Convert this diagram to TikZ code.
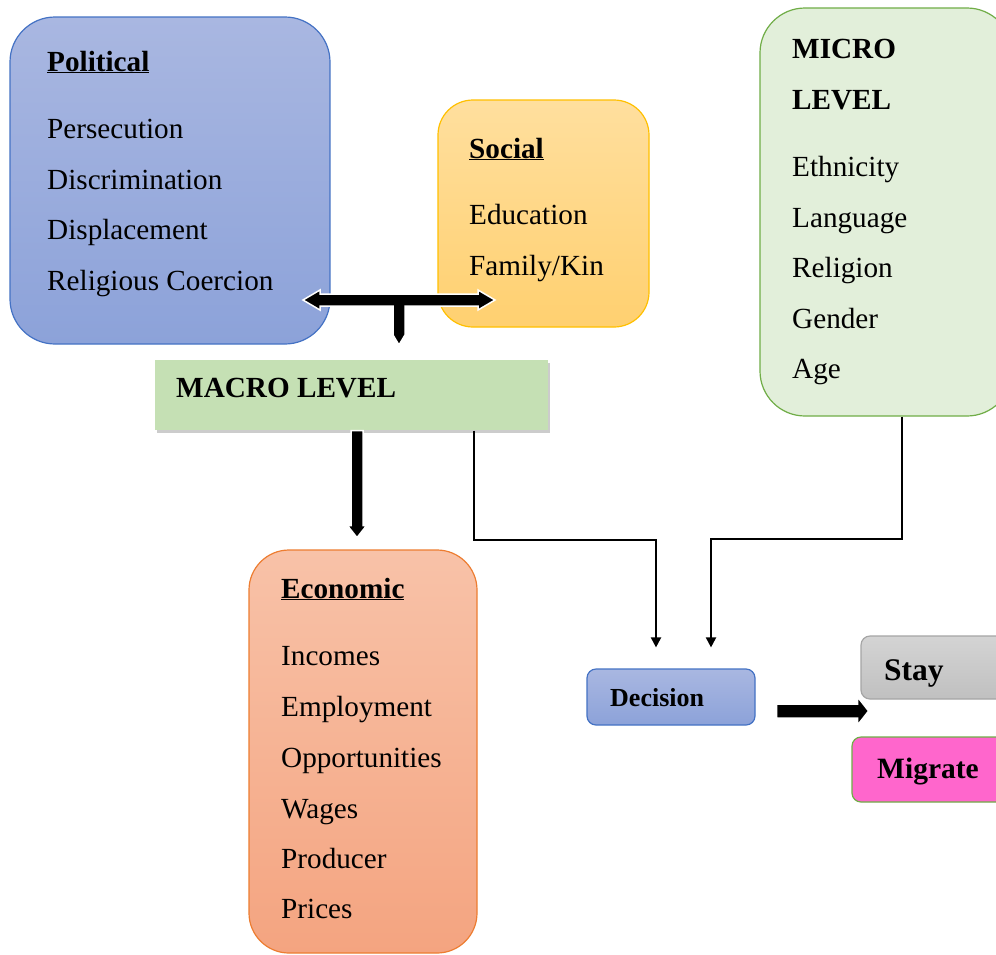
\documentclass[tikz,border=0pt]{standalone}
\usepackage{fontspec}
\setmainfont{Liberation Serif}
\usetikzlibrary{shadows,arrows.meta}
\definecolor{polTop}{RGB}{169,183,225}
\definecolor{polBot}{RGB}{140,162,217}
\definecolor{polLine}{RGB}{68,114,196}
\definecolor{socTop}{RGB}{255,223,158}
\definecolor{socBot}{RGB}{255,208,112}
\definecolor{socLine}{RGB}{255,192,0}
\definecolor{micFill}{RGB}{226,239,218}
\definecolor{grnLine}{RGB}{112,173,71}
\definecolor{macFill}{RGB}{197,224,180}
\definecolor{ecoTop}{RGB}{248,194,168}
\definecolor{ecoBot}{RGB}{244,164,128}
\definecolor{ecoLine}{RGB}{237,125,49}
\definecolor{stayTop}{RGB}{212,212,212}
\definecolor{stayBot}{RGB}{192,192,192}
\definecolor{stayLine}{RGB}{165,165,165}
\definecolor{migFill}{RGB}{255,102,204}
\newcommand\myfs{\fontsize{29.2}{34}\selectfont}
\tikzset{
  box/.style={rectangle, line width=1.2pt, inner sep=0pt},
  txt/.style={anchor=base west, inner sep=0pt, font=\myfs},
  btxt/.style={txt, font=\myfs\bfseries},
  conn/.style={line width=2pt, -{Triangle[length=10pt,width=10pt]}},
  fat/.style={fill=black, draw=white, line width=1.5pt, line join=miter},
}
\begin{document}
\begin{tikzpicture}[x=1pt,y=-1pt]
\clip (0,0) rectangle (996,954);
\fill[white] (0,0) rectangle (996,954);
% boxes
\node[box, draw=polLine, top color=polTop, bottom color=polBot, rounded corners=45pt,
      minimum width=320pt, minimum height=327pt] (political) at (170,180.5) {};
\node[box, draw=socLine, top color=socTop, bottom color=socBot, rounded corners=35pt,
      minimum width=211pt, minimum height=227pt] (social) at (543.5,213.5) {};
\node[box, draw=grnLine, fill=micFill, rounded corners=45pt,
      minimum width=252pt, minimum height=408pt] (micro) at (886,212) {};
\node[box, fill=macFill, drop shadow={opacity=0.4, shadow xshift=1.5pt, shadow yshift=-3pt},
      minimum width=393pt, minimum height=70pt] (macro) at (351.5,395) {};
\node[box, draw=ecoLine, top color=ecoTop, bottom color=ecoBot, rounded corners=40pt,
      minimum width=228pt, minimum height=403pt] (economic) at (363,751.5) {};
\node[box, draw=polLine, top color=polTop, bottom color=polBot, rounded corners=9pt,
      minimum width=168pt, minimum height=56pt] (decision) at (671,697) {};
\node[box, draw=stayLine, top color=stayTop, bottom color=stayBot, rounded corners=9pt,
      minimum width=149pt, minimum height=63pt] (stay) at (935.5,667.5) {};
\node[box, draw=grnLine, fill=migFill, rounded corners=9pt,
      minimum width=158pt, minimum height=65pt] (migrate) at (931,769.5) {};
% texts political
\node[btxt] (polT) at (47,71) {\underline{Political}};
\node[txt] (pol1) at (47,138) {Persecution};
\node[txt] (pol2) at (47,189) {Discrimination};
\node[txt] (pol3) at (47,239) {Displacement};
\node[txt] (pol4) at (47,290) {Religious Coercion};
% social
\node[btxt] (socT) at (469,158) {\underline{Social}};
\node[txt] (soc1) at (469,224) {Education};
\node[txt] (soc2) at (469,275) {Family/Kin};
% micro
\node[btxt] (micT1) at (792,58) {MICRO};
\node[btxt] (micT2) at (792,109) {LEVEL};
\node[txt] (mic1) at (792,176) {Ethnicity};
\node[txt] (mic2) at (792,227) {Language};
\node[txt] (mic3) at (792,277) {Religion};
\node[txt] (mic4) at (792,328) {Gender};
\node[txt] (mic5) at (792,378) {Age};
% macro
\node[btxt] (macT) at (176,397) {MACRO LEVEL};
% economic
\node[btxt] (ecoT) at (281,598) {\underline{Economic}};
\node[txt] (eco1) at (281,665) {Incomes};
\node[txt] (eco2) at (281,716) {Employment};
\node[txt] (eco3) at (281,767) {Opportunities};
\node[txt] (eco4) at (281,818) {Wages};
\node[txt] (eco5) at (281,868) {Producer};
\node[txt] (eco6) at (281,918) {Prices};
% decision / outcomes
\node[txt, font=\fontsize{26}{30}\selectfont\bfseries] (decT) at (610,706) {Decision};
\node[txt, font=\fontsize{31.5}{36}\selectfont\bfseries] (stayT) at (884,680) {Stay};
\node[txt, font=\fontsize{29.5}{34}\selectfont\bfseries] (migT) at (877,778) {Migrate};
% T-shaped double arrow between political and social, down to macro
\coordinate (hub) at (399,300);
\draw[fat] (hub) ++(-96,0) -- ++(17,-10) -- ++(0,4) -- ++(158,0) -- ++(0,-4) -- ++(17,10)
  -- ++(-17,10) -- ++(0,-4) -- ++(-73,0) -- ++(0,29) -- ++(-6,10) -- ++(-6,-10)
  -- ++(0,-29) -- ++(-73,0) -- ++(0,4) -- cycle;
% thick arrow macro -> economic
\coordinate (dS) at ([xshift=5.5pt]macro.south);
\draw[fat] (dS) ++(-6,0) -- ++(0,95) -- ++(-3.5,0) -- ++(9.5,12) -- ++(9.5,-12)
  -- ++(-3.5,0) -- ++(0,-95) -- cycle;
% elbow connectors to decision
\draw[conn] ([xshift=-75pt]macro.south east) -- ++(0,109) -| ([xshift=-15pt,yshift=21pt]decision.north);
\draw[conn] ([xshift=16pt]micro.south) -- ++(0,122) -| ([xshift=40pt,yshift=21pt]decision.north);
% thick arrow decision -> outcomes
\coordinate (rS) at ([xshift=21pt,yshift=-14pt]decision.east);
\draw[fat] (rS) ++(0,-7) -- ++(81,0) -- ++(0,-7) -- ++(11,14) -- ++(-11,14) -- ++(0,-7)
  -- ++(-81,0) -- cycle;
\end{tikzpicture}
\end{document}
